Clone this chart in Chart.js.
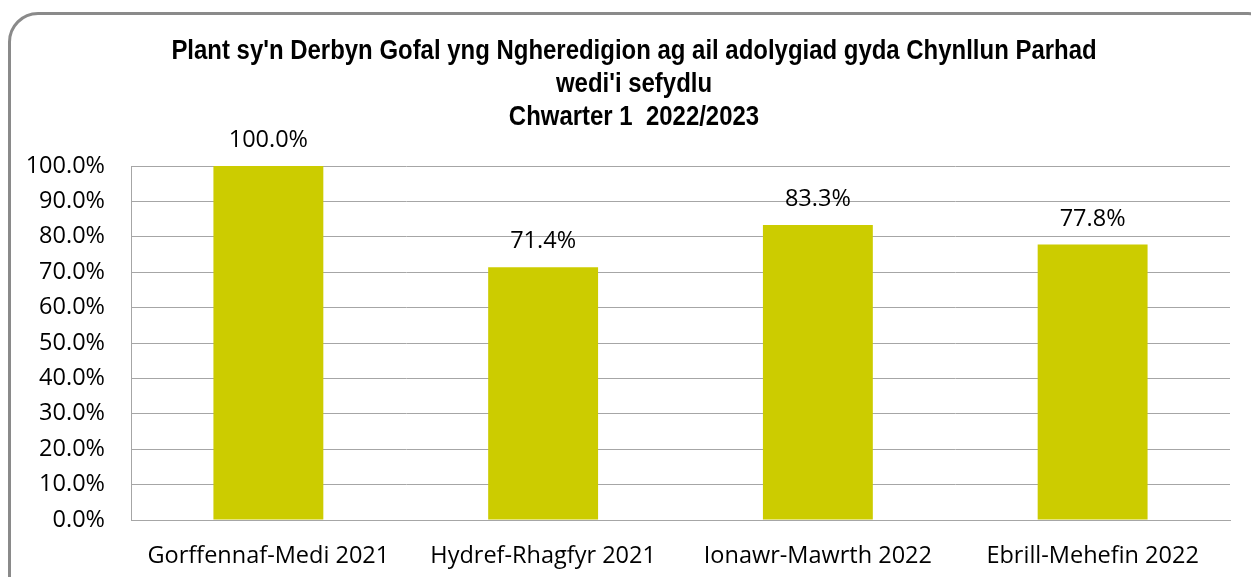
<!DOCTYPE html>
<html>
<head>
<meta charset="utf-8">
<script src="https://cdn.jsdelivr.net/npm/chart.js@4"></script>
<style>
  html, body { margin: 0; padding: 0; background: #fff; overflow: hidden; }
  #wrap { position: relative; width: 1251px; height: 577px; }
  #frame {
    position: absolute; left: 8px; top: 12px; width: 1270px; height: 600px;
    border: 3px solid #8a8a8a; border-radius: 30px; box-sizing: border-box;
  }
  canvas { position: absolute; left: 0; top: 0; }
</style>
</head>
<body>
<div id="wrap">
  <div id="frame"></div>
  <canvas id="chart" width="1251" height="577"></canvas>
</div>
<script>
// chart data
const categories = ['Gorffennaf-Medi 2021', 'Hydref-Rhagfyr 2021', 'Ionawr-Mawrth 2022', 'Ebrill-Mehefin 2022'];
const values = [1.0, 0.714, 0.833, 0.778];
const titleLines = ["Plant sy'n Derbyn Gofal yng Ngheredigion ag ail adolygiad gyda Chynllun Parhad", "wedi'i sefydlu", 'Chwarter 1  2022/2023'];

const bodyFont = '"Open Sans", Lato, sans-serif';
const bodySize = 23.5;
const gridColor = '#a6a6a6';

function pct(v) {
  return (v * 100).toFixed(1) + '%';
}

// title is drawn by hand so it can be squeezed like the narrow original
const narrowTitle = {
  id: 'narrowTitle',
  afterDraw(chart) {
    const ctx = chart.ctx;
    ctx.save();
    ctx.font = 'bold 27px "Liberation Sans", Arial, sans-serif';
    ctx.fillStyle = '#000';
    ctx.textAlign = 'center';
    ctx.textBaseline = 'alphabetic';
    titleLines.forEach(function (line, i) {
      ctx.save();
      ctx.translate(634, 59 + i * 33);
      ctx.scale(0.887, 1);
      ctx.fillText(line, 0, 0);
      ctx.restore();
    });
    ctx.restore();
  }
};

// draws the value above each bar
const barLabels = {
  id: 'barLabels',
  afterDatasetsDraw(chart) {
    const ctx = chart.ctx;
    const meta = chart.getDatasetMeta(0);
    ctx.save();
    ctx.font = bodySize + 'px ' + bodyFont;
    ctx.fillStyle = '#000';
    ctx.textAlign = 'center';
    ctx.textBaseline = 'alphabetic';
    meta.data.forEach(function (bar, i) {
      ctx.fillText(pct(values[i]), bar.x, bar.y - 19);
    });
    ctx.restore();
  }
};

new Chart(document.getElementById('chart'), {
  type: 'bar',
  data: {
    labels: categories,
    datasets: [{
      data: values,
      backgroundColor: '#cccc00',
      categoryPercentage: 1,
      barPercentage: 0.4
    }]
  },
  options: {
    responsive: false,
    animation: false,
    layout: { padding: { left: 0, right: 21, top: 166, bottom: 0 } },
    plugins: {
      legend: { display: false },
      tooltip: { enabled: false },
      title: { display: false }
    },
    scales: {
      x: {
        grid: { display: false, drawTicks: false },
        border: { display: true, color: gridColor, width: 1 },
        ticks: { color: '#000', font: { family: bodyFont, size: bodySize }, padding: 22 },
        afterFit(scale) { scale.height = 57; }
      },
      y: {
        min: 0,
        max: 1,
        grid: { color: gridColor, lineWidth: 1, drawTicks: false },
        border: { display: true, color: gridColor, width: 1 },
        ticks: {
          stepSize: 0.1,
          color: '#000',
          font: { family: bodyFont, size: bodySize },
          padding: 26,
          callback: function (v) { return pct(v); }
        },
        afterFit(scale) { scale.width = 131; }
      }
    }
  },
  plugins: [barLabels, narrowTitle]
});
</script>
</body>
</html>
